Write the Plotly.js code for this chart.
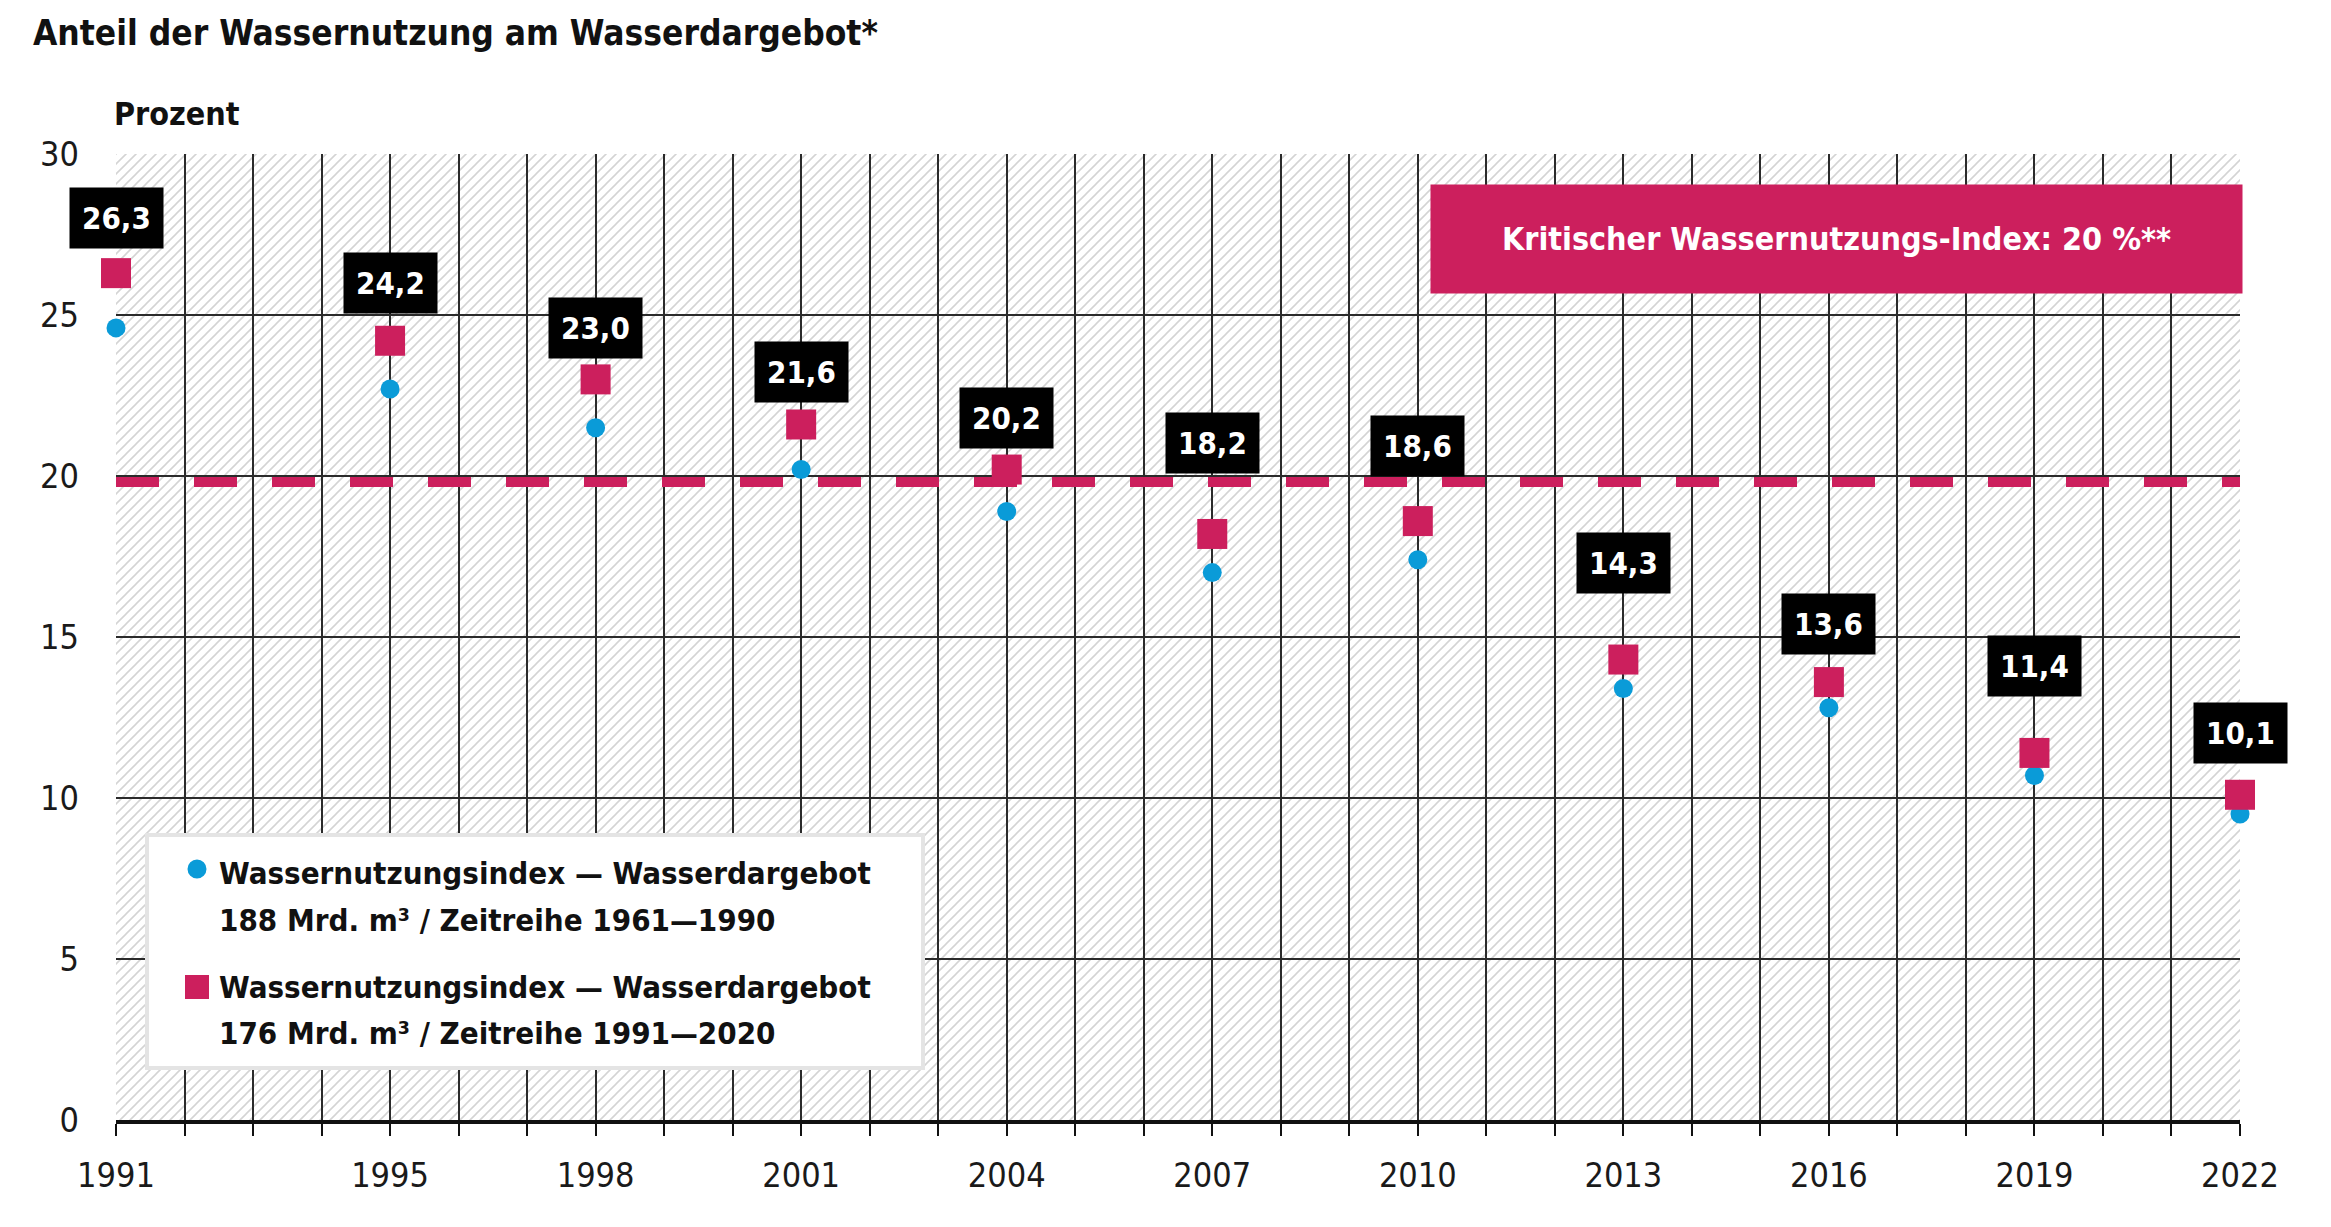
<!DOCTYPE html>
<html><head><meta charset="utf-8">
<script src="https://cdn.plot.ly/plotly-3.0.1.min.js"></script>
<style>html,body{margin:0;padding:0;background:#fff}</style>
</head><body><div id="chart" style="width:2331px;height:1227px"></div>
<script>
// ---- data ----
const years = [1991, 1995, 1998, 2001, 2004, 2007, 2010, 2013, 2016, 2019, 2022];
const index188 = [24.6, 22.7, 21.5, 20.2, 18.9, 17.0, 17.4, 13.4, 12.8, 10.7, 9.5];
const index176 = [26.3, 24.2, 23.0, 21.6, 20.2, 18.2, 18.6, 14.3, 13.6, 11.4, 10.1];
const seriesNames = [
  ['Wassernutzungsindex \u2014 Wasserdargebot', '188 Mrd. m\u00b3 / Zeitreihe 1961\u20141990'],
  ['Wassernutzungsindex \u2014 Wasserdargebot', '176 Mrd. m\u00b3 / Zeitreihe 1991\u20142020']
];
const thresholdValue = 20;
const thresholdLabel = 'Kritischer Wassernutzungs-Index: 20 %**';
const chartTitle = 'Anteil der Wassernutzung am Wasserdargebot*';
const yAxisTitle = 'Prozent';
const yearStart = 1991, yearEnd = 2022;

// ---- style ----
const FONT = '"Liberation Sans Narrow", "DejaVu Sans Condensed", "Roboto Condensed", Roboto, sans-serif';
const PINK = '#cc1f5d';
const BLUE = '#0a9bd8';
const W = 2331, H = 1227;
const M = {l: 116, r: 91, t: 154, b: 107};
const PW = W - M.l - M.r, PH = H - M.t - M.b;

// tick positions: every year, label only the data years
const allYears = [];
for (let y = yearStart; y <= yearEnd; y++) allYears.push(y);
const tickText = allYears.map(y => years.includes(y) ? String(y) : '');

// hatch background
const svg = `<svg xmlns='http://www.w3.org/2000/svg' width='${PW}' height='${PH}' viewBox='0 0 ${PW} ${PH}' preserveAspectRatio='none'>` +
  `<defs><pattern id='h' width='10' height='10' patternUnits='userSpaceOnUse'>` +
  `<path d='M-2,2 L2,-2 M0,10 L10,0 M8,12 L12,8' stroke='#d4d4d4' stroke-width='1.6'/></pattern></defs>` +
  `<rect width='100%' height='100%' fill='#ffffff'/><rect width='100%' height='100%' fill='url(#h)'/></svg>`;
const hatchSrc = 'data:image/svg+xml;charset=utf-8,' + encodeURIComponent(svg);

const fmt = v => v.toFixed(1).replace('.', ',');
// vertical pixel offset of each value box above its marker
const labelShift = [55, 58, 51, 52, 52, 91, 75, 97, 58, 87, 62];

const traces = [
  {
    x: years, y: index188, type: 'scatter', mode: 'markers', name: seriesNames[0].join(' '),
    marker: {symbol: 'circle', size: 19, color: BLUE}, cliponaxis: false, showlegend: false, hoverinfo: 'x+y'
  },
  {
    x: years, y: index176, type: 'scatter', mode: 'markers', name: seriesNames[1].join(' '),
    marker: {symbol: 'square', size: 30, color: PINK}, cliponaxis: false, showlegend: false, hoverinfo: 'x+y'
  }
];

const annotations = years.map((yr, i) => ({
  x: yr, y: index176[i], xref: 'x', yref: 'y', yshift: labelShift[i],
  text: '<b>' + fmt(index176[i]) + '</b>', showarrow: false,
  xanchor: 'center', yanchor: 'middle',
  font: {family: FONT, size: 31, color: '#ffffff'},
  bgcolor: '#000000', borderpad: 12
}));

// critical index box
annotations.push({
  xref: 'paper', yref: 'paper',
  x: ((1431 + 2242) / 2 - M.l) / PW, y: (H - M.b - 239) / PH,
  xanchor: 'center', yanchor: 'middle', showarrow: false,
  text: '<b>' + thresholdLabel + '</b>',
  font: {family: FONT, size: 32, color: '#ffffff'},
  bgcolor: PINK, width: 811, height: 108, borderpad: 0
});

// y axis title
annotations.push({
  xref: 'paper', yref: 'paper', x: 0, xshift: -4, y: 1 + 40 / PH, xanchor: 'left', yanchor: 'middle',
  showarrow: false, text: '<b>' + yAxisTitle + '</b>',
  font: {family: FONT, size: 32, color: '#111111'}
});

// legend (drawn manually)
const px = v => (v - M.l) / PW;
const py = v => (H - M.b - v) / PH;
const legendLines = [[873, 920], [987, 1033]];
seriesNames.forEach((lines, s) => {
  lines.forEach((ln, k) => {
    annotations.push({
      xref: 'paper', yref: 'paper', x: px(217), y: py(legendLines[s][k]),
      xanchor: 'left', yanchor: 'middle', showarrow: false,
      text: '<b>' + ln + '</b>', font: {family: FONT, size: 31, color: '#111111'}
    });
  });
});

const shapes = [
  // threshold line
  {type: 'line', xref: 'x', yref: 'y', x0: yearStart, x1: yearEnd, y0: -6, y1: -6,
   ysizemode: 'pixel', yanchor: thresholdValue, layer: 'between',
   line: {color: PINK, width: 10, dash: '43px,35px'}},
  // legend box
  {type: 'rect', xref: 'paper', yref: 'paper', x0: px(147), x1: px(923), y0: py(1068), y1: py(835),
   fillcolor: '#ffffff', line: {color: '#e4e4e4', width: 4}, layer: 'above'},
  // legend markers
  {type: 'circle', xref: 'paper', yref: 'paper', x0: px(187.5), x1: px(206.5), y0: py(878.5), y1: py(859.5),
   fillcolor: BLUE, line: {width: 0}, layer: 'above'},
  {type: 'rect', xref: 'paper', yref: 'paper', x0: px(185), x1: px(209), y0: py(999), y1: py(975),
   fillcolor: PINK, line: {width: 0}, layer: 'above'}
];

const layout = {
  width: W, height: H, margin: M,
  paper_bgcolor: '#ffffff', plot_bgcolor: 'rgba(0,0,0,0)',
  showlegend: false,
  title: {text: '<b>' + chartTitle + '</b>', xref: 'container', yref: 'container',
          x: 33 / W, xanchor: 'left', y: 1 - 33 / H, yanchor: 'middle',
          font: {family: FONT, size: 35, color: '#111111'}},
  xaxis: {
    range: [yearStart, yearEnd], tickmode: 'array', tickvals: allYears, ticktext: tickText,
    showgrid: true, gridcolor: '#2a2a2a', gridwidth: 2,
    ticks: 'outside', ticklen: 12, tickwidth: 2, tickcolor: '#111111',
    showline: true, linecolor: '#111111', linewidth: 4,
    zeroline: false, ticklabelstandoff: 10,
    tickfont: {family: FONT, size: 34, color: '#1a1a1a'}, fixedrange: true
  },
  yaxis: {
    range: [0, 30], tickmode: 'linear', tick0: 0, dtick: 5,
    showgrid: true, gridcolor: '#2a2a2a', gridwidth: 2,
    ticks: '', showline: false, zeroline: false, ticklabelstandoff: 36,
    tickfont: {family: FONT, size: 34, color: '#1a1a1a'}, fixedrange: true
  },
  images: [{source: hatchSrc, xref: 'x', yref: 'y', x: yearStart, y: 30, sizex: yearEnd - yearStart, sizey: 30,
            xanchor: 'left', yanchor: 'top', sizing: 'stretch', layer: 'below'}],
  shapes: shapes,
  annotations: annotations
};

Plotly.newPlot('chart', traces, layout, {displayModeBar: false, staticPlot: true});
</script></body></html>
